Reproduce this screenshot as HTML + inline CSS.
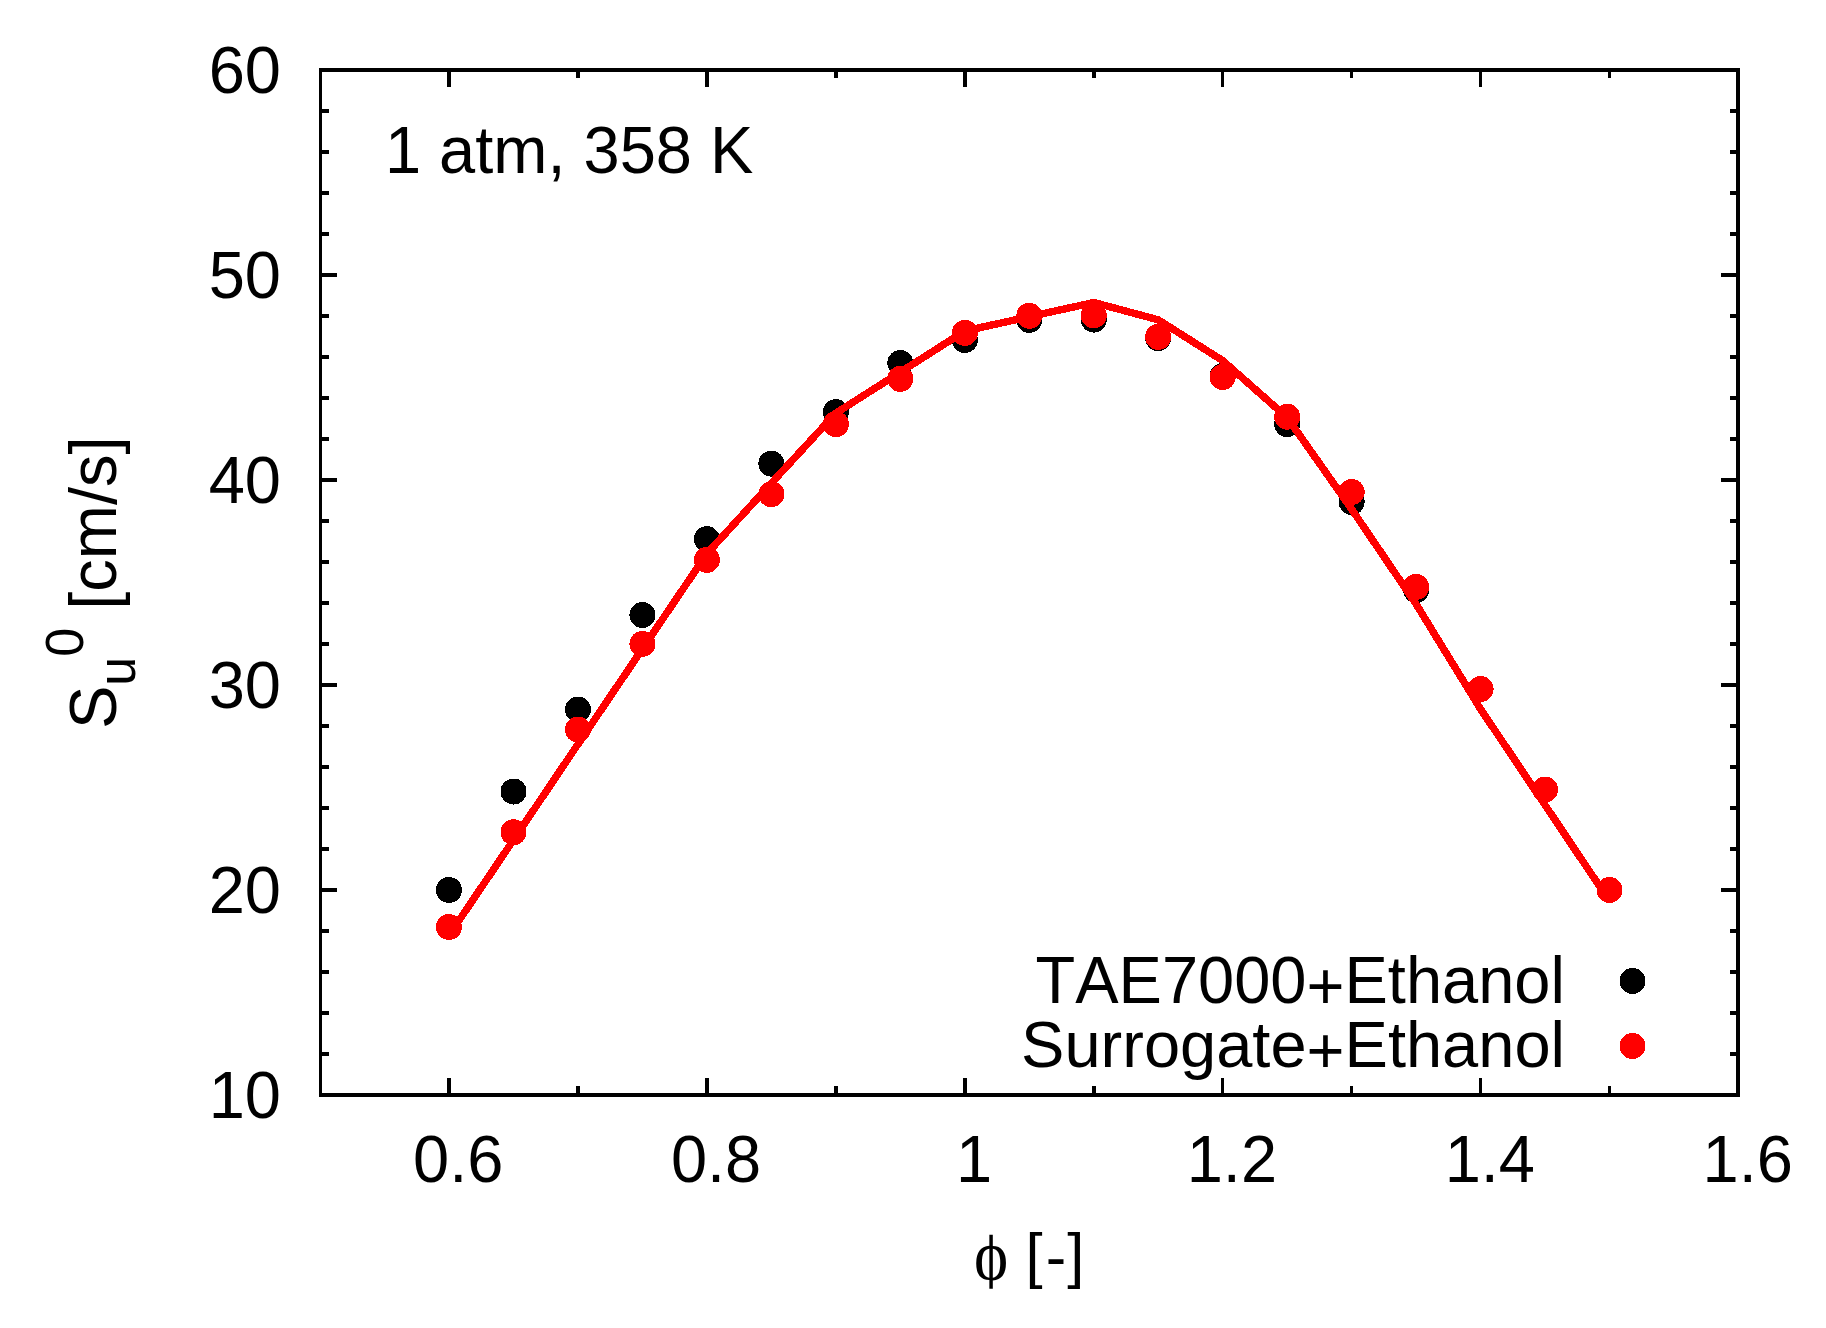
<!DOCTYPE html>
<html lang="en"><head><meta charset="utf-8"><title>Laminar flame speed</title>
<style>html,body{margin:0;padding:0;background:#fff;}body{width:1826px;height:1328px;overflow:hidden;}svg{display:block;}text{font-family:"Liberation Sans",sans-serif;font-size:65px;fill:#000;font-kerning:none;}.sym{font-family:"Liberation Serif","DejaVu Serif",serif;}</style></head><body>
<svg width="1826" height="1328" viewBox="0 0 1826 1328">
<rect x="0" y="0" width="1826" height="1328" fill="#fff"/>
<g fill="#000" shape-rendering="crispEdges"><rect x="319" y="68" width="3" height="1029"/><rect x="1736" y="68" width="4" height="1029"/><rect x="319" y="68" width="1421" height="4"/><rect x="319" y="1093" width="1421" height="4"/><rect x="447" y="1078" width="4" height="15"/><rect x="447" y="72" width="4" height="15"/><rect x="576" y="1086" width="4" height="7"/><rect x="576" y="72" width="4" height="6"/><rect x="705" y="1078" width="4" height="15"/><rect x="705" y="72" width="4" height="15"/><rect x="834" y="1086" width="4" height="7"/><rect x="834" y="72" width="4" height="6"/><rect x="963" y="1078" width="4" height="15"/><rect x="963" y="72" width="4" height="15"/><rect x="1092" y="1086" width="4" height="7"/><rect x="1092" y="72" width="4" height="6"/><rect x="1221" y="1078" width="3" height="15"/><rect x="1221" y="72" width="3" height="15"/><rect x="1350" y="1086" width="3" height="7"/><rect x="1350" y="72" width="3" height="6"/><rect x="1479" y="1078" width="3" height="15"/><rect x="1479" y="72" width="3" height="15"/><rect x="1608" y="1086" width="3" height="7"/><rect x="1608" y="72" width="3" height="6"/><rect x="322" y="1052" width="7" height="4"/><rect x="1730" y="1052" width="6" height="4"/><rect x="322" y="1011" width="7" height="4"/><rect x="1730" y="1011" width="6" height="4"/><rect x="322" y="970" width="7" height="4"/><rect x="1730" y="970" width="6" height="4"/><rect x="322" y="929" width="7" height="4"/><rect x="1730" y="929" width="6" height="4"/><rect x="322" y="888" width="15" height="4"/><rect x="1721" y="888" width="15" height="4"/><rect x="322" y="847" width="7" height="4"/><rect x="1730" y="847" width="6" height="4"/><rect x="322" y="806" width="7" height="4"/><rect x="1730" y="806" width="6" height="4"/><rect x="322" y="765" width="7" height="4"/><rect x="1730" y="765" width="6" height="4"/><rect x="322" y="724" width="7" height="4"/><rect x="1730" y="724" width="6" height="4"/><rect x="322" y="683" width="15" height="4"/><rect x="1721" y="683" width="15" height="4"/><rect x="322" y="642" width="7" height="4"/><rect x="1730" y="642" width="6" height="4"/><rect x="322" y="601" width="7" height="4"/><rect x="1730" y="601" width="6" height="4"/><rect x="322" y="560" width="7" height="4"/><rect x="1730" y="560" width="6" height="4"/><rect x="322" y="519" width="7" height="4"/><rect x="1730" y="519" width="6" height="4"/><rect x="322" y="478" width="15" height="4"/><rect x="1721" y="478" width="15" height="4"/><rect x="322" y="437" width="7" height="4"/><rect x="1730" y="437" width="6" height="4"/><rect x="322" y="396" width="7" height="4"/><rect x="1730" y="396" width="6" height="4"/><rect x="322" y="355" width="7" height="4"/><rect x="1730" y="355" width="6" height="4"/><rect x="322" y="314" width="7" height="4"/><rect x="1730" y="314" width="6" height="4"/><rect x="322" y="273" width="15" height="4"/><rect x="1721" y="273" width="15" height="4"/><rect x="322" y="232" width="7" height="4"/><rect x="1730" y="232" width="6" height="4"/><rect x="322" y="191" width="7" height="4"/><rect x="1730" y="191" width="6" height="4"/><rect x="322" y="150" width="7" height="4"/><rect x="1730" y="150" width="6" height="4"/><rect x="322" y="109" width="7" height="4"/><rect x="1730" y="109" width="6" height="4"/></g>
<text transform="translate(281,1117.5) scale(1,1.035)" text-anchor="end">10</text>
<text transform="translate(281,912.5) scale(1,1.035)" text-anchor="end">20</text>
<text transform="translate(281,707.5) scale(1,1.035)" text-anchor="end">30</text>
<text transform="translate(281,502.5) scale(1,1.035)" text-anchor="end">40</text>
<text transform="translate(281,297.5) scale(1,1.035)" text-anchor="end">50</text>
<text transform="translate(281,92.5) scale(1,1.035)" text-anchor="end">60</text>
<text transform="translate(458.2,1182.2) scale(1,1.035)" text-anchor="middle">0.6</text>
<text transform="translate(716.1,1182.2) scale(1,1.035)" text-anchor="middle">0.8</text>
<text transform="translate(974,1182.2) scale(1,1.035)" text-anchor="middle">1</text>
<text transform="translate(1231.9,1182.2) scale(1,1.035)" text-anchor="middle">1.2</text>
<text transform="translate(1489.8,1182.2) scale(1,1.035)" text-anchor="middle">1.4</text>
<text transform="translate(1747.7,1182.2) scale(1,1.035)" text-anchor="middle">1.6</text>
<clipPath id="phiclip"><rect x="960" y="1234.8" width="60" height="54"/></clipPath>
<g clip-path="url(#phiclip)"><text class="sym" transform="translate(973.9,1280) scale(1,1.097)">ϕ</text></g>
<text x="1025.6" y="1276.3" dx="0 3 1" dy="0 2 -2" style="font-size:61.5px">[-]</text>
<text transform="translate(116,729) rotate(-90) scale(1,1.02)">S<tspan font-size="52" dy="19">u</tspan><tspan font-size="52" dy="-51">0</tspan><tspan dy="32"> [cm/s]</tspan></text>
<text transform="translate(384.9,173) scale(1,1.025)">1 atm, 358 K</text>
<text transform="translate(1035.55,1002.8) scale(1,1.02)">TAE7000<tspan dy="5.58824">+</tspan><tspan dy="-5.58824">Ethanol</tspan></text>
<text x="1021.11" y="1067.2">Surrogate<tspan dy="5.7">+</tspan><tspan dy="-5.7">Ethanol</tspan></text>
<g shape-rendering="crispEdges"><g fill="#000"><circle cx="449.0" cy="890.0" r="13"/><circle cx="513.5" cy="791.5" r="13"/><circle cx="577.9" cy="709.5" r="13"/><circle cx="642.4" cy="615.0" r="13"/><circle cx="706.9" cy="539.2" r="13"/><circle cx="771.4" cy="463.6" r="13"/><circle cx="835.9" cy="412.2" r="13"/><circle cx="900.3" cy="363.0" r="13"/><circle cx="964.8" cy="340.0" r="13"/><circle cx="1029.3" cy="319.9" r="13"/><circle cx="1093.8" cy="319.6" r="13"/><circle cx="1158.2" cy="338.1" r="13"/><circle cx="1222.7" cy="376.0" r="13"/><circle cx="1287.2" cy="424.1" r="13"/><circle cx="1351.7" cy="502.0" r="13"/><circle cx="1416.1" cy="590.0" r="13"/><circle cx="1632.5" cy="981" r="13"/></g><g fill="#f00"><circle cx="449.0" cy="927.0" r="13"/><circle cx="513.5" cy="832.3" r="13"/><circle cx="577.9" cy="729.6" r="13"/><circle cx="642.4" cy="643.9" r="13"/><circle cx="706.9" cy="559.8" r="13"/><circle cx="771.4" cy="494.2" r="13"/><circle cx="835.9" cy="424.1" r="13"/><circle cx="900.3" cy="378.9" r="13"/><circle cx="964.8" cy="332.9" r="13"/><circle cx="1029.3" cy="315.8" r="13"/><circle cx="1093.8" cy="315.3" r="13"/><circle cx="1158.2" cy="336.9" r="13"/><circle cx="1222.7" cy="377.0" r="13"/><circle cx="1287.2" cy="416.7" r="13"/><circle cx="1351.7" cy="492.0" r="13"/><circle cx="1416.1" cy="586.9" r="13"/><circle cx="1480.6" cy="689.0" r="13"/><circle cx="1545.1" cy="789.5" r="13"/><circle cx="1609.5" cy="889.9" r="13"/><circle cx="1632.5" cy="1046" r="13"/></g><polyline points="449.0,935.2 513.5,839.9 577.9,744.3 642.4,648.9 706.9,553.7 771.4,483.1 835.9,413.1 900.3,372.2 964.8,331.0 1029.3,316.7 1093.8,302.5 1158.2,319.8 1222.7,360.6 1287.2,417.6 1351.7,509.2 1416.1,604.1 1480.6,709.1 1545.1,805.1 1608.5,899.5" fill="none" stroke="#f00" stroke-width="7.4" stroke-linejoin="miter" stroke-linecap="butt"/></g>
</svg></body></html>
